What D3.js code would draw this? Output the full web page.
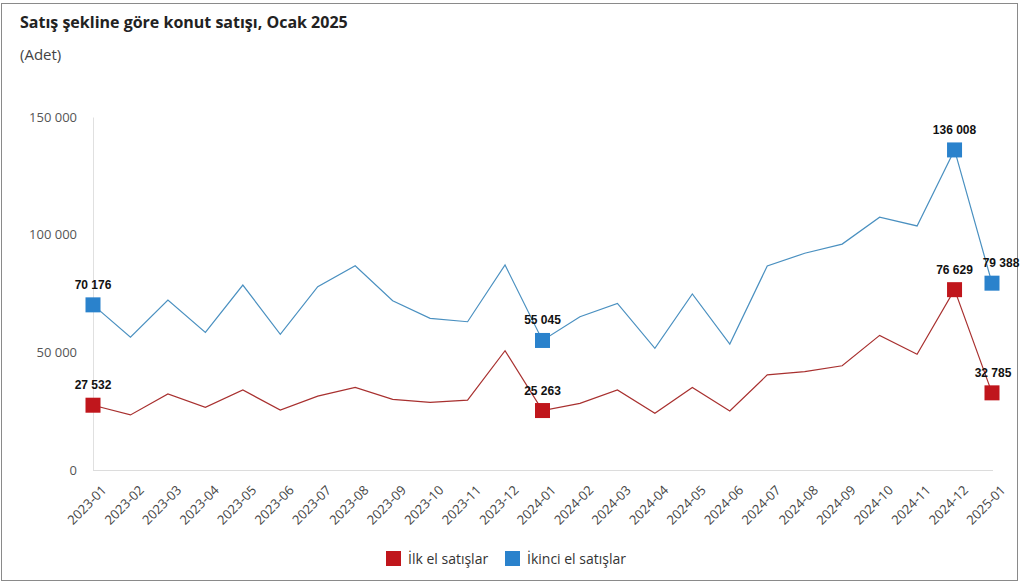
<!DOCTYPE html>
<html>
<head>
<meta charset="utf-8">
<script src="https://cdn.jsdelivr.net/npm/d3@7"></script>
<style>
  html, body { margin: 0; padding: 0; background: #fff; }
  svg { display: block; }
</style>
</head>
<body>
<svg id="chart" width="1020" height="583"></svg>
<script>
// Monthly housing sales by type of sale
const months = [
  "2023-01","2023-02","2023-03","2023-04","2023-05","2023-06","2023-07","2023-08",
  "2023-09","2023-10","2023-11","2023-12","2024-01","2024-02","2024-03","2024-04",
  "2024-05","2024-06","2024-07","2024-08","2024-09","2024-10","2024-11","2024-12","2025-01"
];
const firstHand = [
  27532, 23400, 32300, 26600, 34000, 25500, 31400, 35100, 30000, 28750, 29700, 50700,
  25263, 28300, 34000, 24100, 35100, 25100, 40400, 41800, 44300, 57200, 49200, 76629, 32785
];
const secondHand = [
  70176, 56400, 72200, 58500, 78600, 57650, 77900, 86800, 71950, 64450, 63000, 87100,
  55045, 65150, 70800, 51700, 74800, 53500, 86700, 92100, 96000, 107400, 103700, 136008, 79388
];
const yTicks = [0, 50000, 100000, 150000];
const labelledMonths = ["2023-01", "2024-01", "2024-12", "2025-01"];
const seriesNames = ["İlk el satışlar", "İkinci el satışlar"];

const series = [
  { name: seriesNames[0], values: firstHand, line: "#a8302f", fill: "#c0161c", lastShift: 1 },
  { name: seriesNames[1], values: secondHand, line: "#4a90c0", fill: "#2a82cc", lastShift: 9 }
];

const svg = d3.select("#chart");
const W = 1020, H = 583;
const plot = { left: 93, right: 992, top: 117, bottom: 470 };

const fmt = v => d3.format(",")(v).replace(/,/g, " ");

// frame
svg.append("rect")
  .attr("x", 1.5).attr("y", 3.5).attr("width", W - 4).attr("height", H - 6)
  .attr("fill", "#fff").attr("stroke", "#8a8a8a").attr("stroke-width", 1);

// titles
svg.append("text")
  .attr("x", 20).attr("y", 28)
  .attr("font-family", "'Open Sans', 'Noto Sans', sans-serif")
  .attr("font-size", 16).attr("font-weight", 700).attr("fill", "#222")
  .text("Satış şekline göre konut satışı, Ocak 2025");
svg.append("text")
  .attr("x", 20).attr("y", 60)
  .attr("font-family", "'Open Sans', 'Noto Sans', sans-serif")
  .attr("font-size", 15).attr("fill", "#444")
  .text("(Adet)");

const x = d3.scalePoint().domain(months).range([plot.left, plot.right]);
const y = d3.scaleLinear().domain([0, 150000]).range([plot.bottom, plot.top]);

// y axis
const yAxis = svg.append("g")
  .attr("transform", `translate(${plot.left},0)`)
  .call(d3.axisLeft(y).tickValues(yTicks).tickFormat(fmt).tickSize(0).tickPadding(16));
yAxis.select(".domain").attr("stroke", "#e0e0e0");
yAxis.selectAll("text")
  .attr("font-family", "'Open Sans', 'Noto Sans', sans-serif")
  .attr("font-size", 13).attr("fill", "#555");

// x axis
const xAxis = svg.append("g")
  .attr("transform", `translate(0,${plot.bottom})`)
  .call(d3.axisBottom(x).tickSize(0).tickPadding(8));
xAxis.select(".domain").attr("stroke", "#dcdcdc").attr("d", `M${plot.left},0.5H${plot.right + 1}`);
xAxis.selectAll("text")
  .attr("font-family", "'Open Sans', 'Noto Sans', sans-serif")
  .attr("font-size", 13).attr("fill", "#444")
  .attr("text-anchor", "end")
  .attr("dy", "0.35em")
  .attr("transform", "translate(5,12) rotate(-45)");

// lines
const line = d3.line().x((d, i) => x(months[i])).y(d => y(d));
series.forEach(s => {
  svg.append("path")
    .datum(s.values)
    .attr("fill", "none")
    .attr("stroke", s.line)
    .attr("stroke-width", 1.2)
    .attr("stroke-linejoin", "miter")
    .attr("d", line);
});

// markers and value labels
const m = 15;
series.forEach(s => {
  const pts = labelledMonths.map(mo => ({ mo, v: s.values[months.indexOf(mo)] }));
  svg.append("g").selectAll("rect").data(pts).join("rect")
    .attr("x", d => x(d.mo) - m / 2).attr("y", d => y(d.v) - m / 2)
    .attr("width", m).attr("height", m)
    .attr("fill", s.fill);
  svg.append("g").selectAll("text").data(pts).join("text")
    .attr("x", d => x(d.mo) + (d.mo === "2025-01" ? s.lastShift : 0))
    .attr("y", d => y(d.v) - 16)
    .attr("text-anchor", "middle")
    .attr("font-family", "'Liberation Sans', Arial, sans-serif")
    .attr("font-size", 12).attr("font-weight", 700).attr("fill", "#111")
    .text(d => fmt(d.v));
});

// legend
const legend = svg.append("g").attr("transform", "translate(386,551)");
const legendItems = [
  { s: series[0], dx: 0 },
  { s: series[1], dx: 119 }
];
legendItems.forEach(({ s, dx }) => {
  const g = legend.append("g").attr("transform", `translate(${dx},0)`);
  g.append("rect").attr("width", 15).attr("height", 15).attr("fill", s.fill);
  g.append("text")
    .attr("x", 22).attr("y", 12.5)
    .attr("font-family", "'Open Sans', 'Noto Sans', sans-serif")
    .attr("font-size", 14).attr("fill", "#333")
    .text(s.name);
});
</script>
</body>
</html>
